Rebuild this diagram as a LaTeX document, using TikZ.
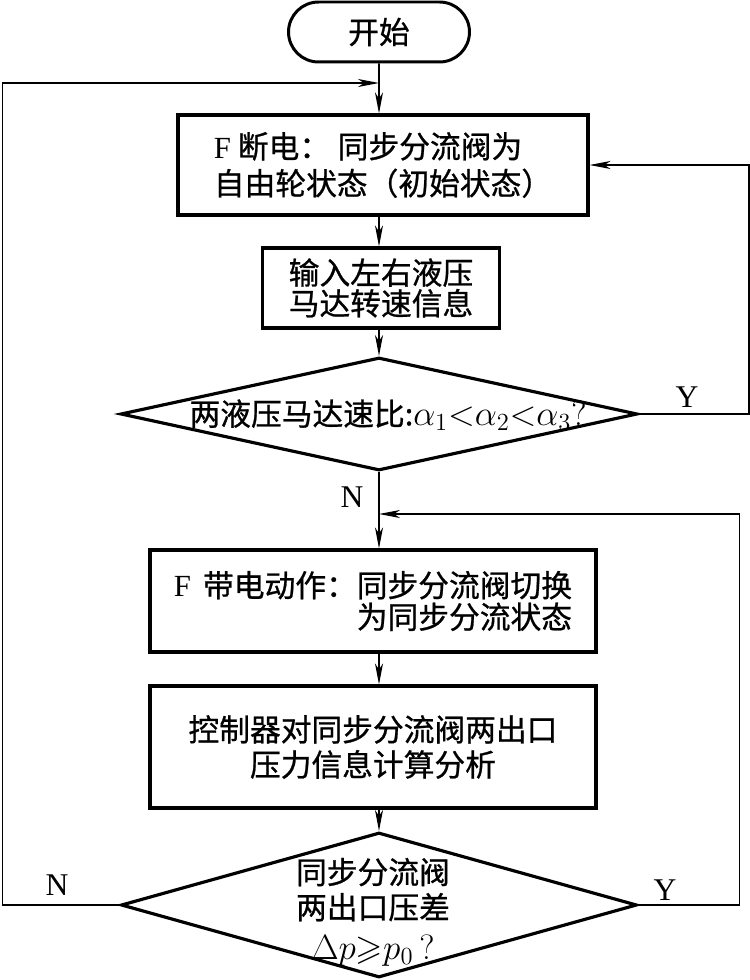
\RequirePackage{fix-cm}
\documentclass[tikz,border=0pt]{standalone}
\usepackage{amsmath,amssymb}
\usepackage{fontspec}
\setmainfont{Liberation Serif}
\newfontfamily\cjk{Noto Sans CJK SC}[FakeBold=0.8]
\usetikzlibrary{arrows.meta,shapes,positioning}
\tikzset{
  startstop/.style={draw,rounded rectangle,line width=1.7pt,minimum width=3.62cm,minimum height=1.2cm,inner sep=0pt},
  procbox/.style={draw,rectangle,line width=1.8pt,inner sep=0pt},
  decision/.style={draw,diamond,line width=1.8pt,inner sep=0pt},
  flow/.style={line width=0.9pt,-{Stealth[length=0.42cm,width=0.16cm,inset=0.12cm]}},
  yn/.style={font=\fontsize{18}{20}\selectfont\rmfamily}
}
\newcommand{\bigmath}[1]{{\fontsize{20}{22}\selectfont$#1$}}

\begin{document}
\begin{tikzpicture}[x=0.02cm,y=-0.02cm,font=\cjk\fontsize{17.5}{20}\selectfont]
\useasboundingbox (0,0) rectangle (750,980);
\node[startstop] (start) at (379,32) {开始};
\node[procbox,minimum width=8.2cm,minimum height=2cm,align=left] (free) at (383,165)
  {\textrm{F} 断电：\hspace{0.25em}同步分流阀为\\[1pt]自由轮状态（初始状态）};
\node[procbox,minimum width=4.74cm,minimum height=1.6cm,align=center] (input) at (381,288)
  {输入左右液压\\[-2.5pt]马达转速信息};
\node[decision,minimum width=10.34cm,minimum height=2.26cm] (ratio) at (379,414) {};
\node (ratiotxt) at (388,415) {两液压马达速比:\bigmath{\alpha_1{<}\alpha_2{<}\alpha_3?}};
\node[procbox,minimum width=8.92cm,minimum height=2.04cm,align=right] (switch) at (373,601)
  {\textrm{F}\, 带电动作：同步分流阀切换\\[-2pt]为同步分流状态};
\node[procbox,minimum width=8.92cm,minimum height=2.44cm,align=center] (calc) at (373,747)
  {控制器对同步分流阀两出口\\压力信息计算分析};
\node[decision,minimum width=10.32cm,minimum height=2.9cm] (check) at (379,905) {};
\node[align=center] (checktxt) at (373,912)
  {同步分流阀\\两出口压差\\[3pt]\bigmath{\Delta p{\geqslant}p_0\,?}};
\coordinate (join1) at (379,83);
\coordinate (join2) at (379,514);
\draw[flow] (start) -- (start |- free.north);
\draw[flow] (start |- free.south) -- (start |- input.north);
\draw[flow] (start |- input.south) -- (ratio.north);
\draw[flow] (ratio.south) -- (ratio.south |- switch.north);
\draw[flow] (ratio.south |- switch.south) -- (ratio.south |- calc.north);
\draw[flow] (ratio.south |- calc.south) -- (check.north);
\draw[flow] (ratio.east) -- ++(110,0) |- (free.east);
\draw[flow] (check.east) -- ++(101,0) |- (join2);
\draw[flow] (check.west) -- ++(-117,0) |- (join1);
\node[yn] (yes1) at (687,397) {Y};
\node[yn] (no1) at (352,497) {N};
\node[yn] (no2) at (57,885) {N};
\node[yn] (yes2) at (665,890) {Y};
\end{tikzpicture}
\end{document}
